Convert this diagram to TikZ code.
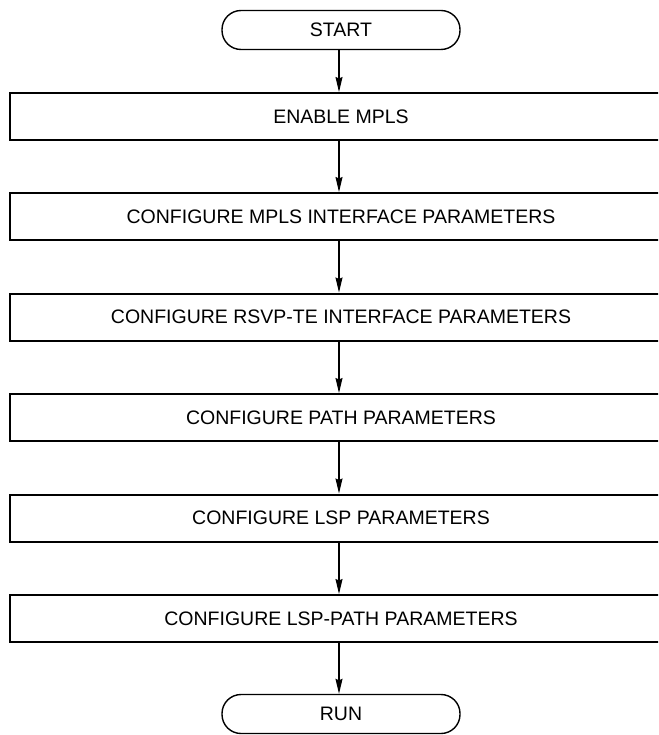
\documentclass[tikz,border=0pt]{standalone}
\usepackage{fontspec}
\setmainfont{Liberation Sans}
\usetikzlibrary{arrows.meta}

\begin{document}
\begin{tikzpicture}[x=1pt,y=1pt,
  stepbox/.style={draw, line width=2pt, minimum width=662pt, minimum height=47pt, inner sep=0pt},
  termbox/.style={draw, line width=1.4pt, rounded corners=19pt, minimum width=238pt, minimum height=39pt, inner sep=0pt},
  flow/.style={line width=1.1pt, -{Stealth[length=15pt, width=7pt, inset=1.5pt]}},
  font=\fontsize{19.5}{22}\selectfont]
\clip (0,0) rectangle (658,-735);
\node[termbox] (start) at (341,-30) {START};
\node[stepbox] (mpls) at (341,-116.5) {ENABLE MPLS};
\node[stepbox] (mplsif) at (341,-216.5) {CONFIGURE MPLS INTERFACE PARAMETERS};
\node[stepbox] (rsvpif) at (341,-317) {CONFIGURE RSVP-TE INTERFACE PARAMETERS};
\node[stepbox] (path) at (341,-417.5) {CONFIGURE PATH PARAMETERS};
\node[stepbox] (lsp) at (341,-518) {CONFIGURE LSP PARAMETERS};
\node[stepbox] (lsppath) at (341,-618.5) {CONFIGURE LSP-PATH PARAMETERS};
\node[termbox] (run) at (341,-714) {RUN};
\draw[flow] (start.south -| 339,0) -- (mpls.north -| 339,0);
\draw[flow] (mpls.south -| 339,0) -- (mplsif.north -| 339,0);
\draw[flow] (mplsif.south -| 339,0) -- (rsvpif.north -| 339,0);
\draw[flow] (rsvpif.south -| 339,0) -- (path.north -| 339,0);
\draw[flow] (path.south -| 339,0) -- (lsp.north -| 339,0);
\draw[flow] (lsp.south -| 339,0) -- (lsppath.north -| 339,0);
\draw[flow] (lsppath.south -| 339,0) -- (run.north -| 339,0);
\end{tikzpicture}
\end{document}
